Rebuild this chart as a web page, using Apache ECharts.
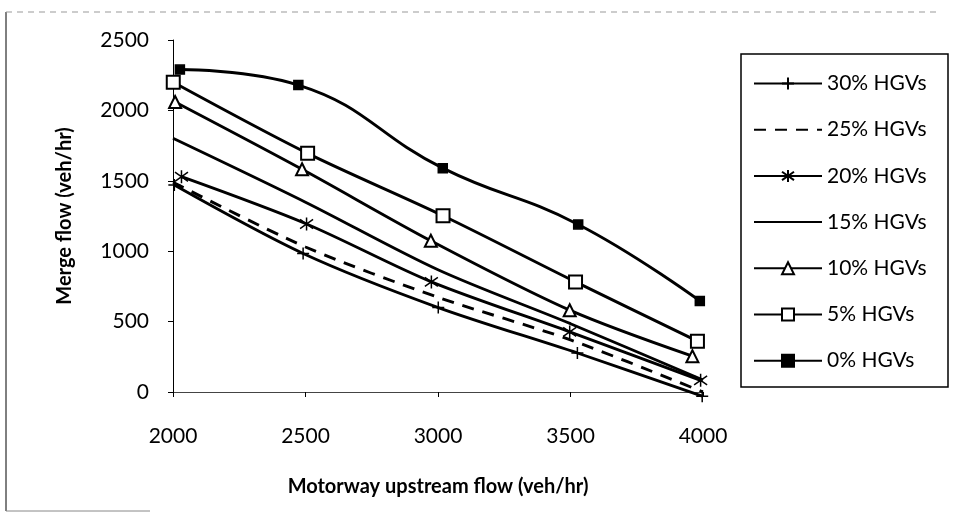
<!DOCTYPE html>
<html>
<head>
<meta charset="utf-8">
<script src="https://cdn.jsdelivr.net/npm/echarts@6/dist/echarts.min.js"></script>
<style>
  html, body { margin: 0; padding: 0; background: #fff; }
  #main { width: 954px; height: 514px; }
</style>
</head>
<body>
<div id="main"></div>
<script>
// x ticks / y ticks
var xTicks = [2000, 2500, 3000, 3500, 4000];
var yTicks = [0, 500, 1000, 1500, 2000, 2500];

var names = ['30% HGVs', '25% HGVs', '20% HGVs', '15% HGVs', '10% HGVs', '5% HGVs', '0% HGVs'];

// [upstream flow, merge flow]
var hgv30 = [[2005, 1470], [2491, 984], [3001, 600], [3526, 277], [3997, -30]];
var hgv25 = [[2000, 1490], [2500, 1030], [3000, 673], [3500, 370], [4000, 0]];
var hgv20 = [[2032, 1529], [2504, 1193], [2975, 782], [3497, 427], [3991, 83]];
var hgv15 = [[2000, 1802], [2500, 1348], [3000, 868], [3500, 485], [4000, 85]];
var hgv10 = [[2008, 2060], [2487, 1582], [2973, 1074], [3497, 581], [3960, 254]];
var hgv5  = [[2001, 2200], [2508, 1695], [3019, 1252], [3519, 782], [3979, 361]];
var hgv0  = [[2026, 2290], [2473, 2180], [3018, 1590], [3529, 1190], [3988, 647]];

var FONT = 'Lato';
var plus = 'path://M5,0V10M0,5H10';
var star = 'path://M5,0V10M1.5,1.5L8.5,8.5M1.5,8.5L8.5,1.5';
var noMark = 'rgba(0,0,0,0)';

function mk(name, data, symbol, size, opts) {
    var s = {
        name: name,
        type: 'line',
        data: data,
        clip: false,
        smooth: 0.3,
        symbol: symbol,
        symbolSize: size,
        lineStyle: { color: '#000', width: 2.9, type: 'solid' },
        itemStyle: { color: '#000', borderColor: '#000', borderWidth: 1.5 },
        emphasis: { disabled: true }
    };
    if (opts) {
        for (var k in opts) s[k] = opts[k];
    }
    return s;
}

var myChart = echarts.init(document.getElementById('main'));
var option = {
    backgroundColor: '#fff',
    animation: false,
    textStyle: { fontFamily: FONT },
    grid: { left: 173, right: 251, top: 40, bottom: 122 },
    graphic: [
        { type: 'line', shape: { x1: 6, y1: 12, x2: 6, y2: 511 }, style: { stroke: '#000', lineWidth: 1 } },
        { type: 'line', shape: { x1: 6, y1: 12, x2: 940, y2: 12 }, style: { stroke: '#999', lineWidth: 1, lineDash: [6, 5] } },
        { type: 'line', shape: { x1: 6, y1: 511, x2: 150, y2: 511 }, style: { stroke: '#888', lineWidth: 1 } },
        { type: 'rect', shape: { x: 741, y: 54, width: 207, height: 333 }, style: { fill: 'none', stroke: '#000', lineWidth: 1.5 } }
    ],
    legend: {
        orient: 'vertical',
        left: 753,
        top: 73,
        padding: 0,
        itemWidth: 68,
        itemHeight: 15,
        itemGap: 25.2,
        data: names,
        textStyle: { fontFamily: FONT, fontSize: 21, color: '#000', lineHeight: 20, padding: [0, 0, 0, 0] }
    },
    xAxis: {
        type: 'value',
        min: xTicks[0],
        max: xTicks[xTicks.length - 1],
        interval: 500,
        name: 'Motorway upstream flow (veh/hr)',
        nameLocation: 'middle',
        nameGap: 85,
        nameTextStyle: { fontFamily: FONT, fontSize: 20, fontWeight: 'bold', color: '#000' },
        axisLine: { onZero: false, lineStyle: { color: '#444', width: 1 } },
        axisTick: { show: true, length: 5, lineStyle: { color: '#000' } },
        axisLabel: { margin: 34, fontFamily: FONT, fontSize: 21, color: '#000', formatter: function (v) { return String(v); } },
        splitLine: { show: false }
    },
    yAxis: {
        type: 'value',
        min: yTicks[0],
        max: yTicks[yTicks.length - 1],
        interval: 500,
        name: 'Merge flow (veh/hr)',
        nameLocation: 'middle',
        nameGap: 98,
        nameTextStyle: { fontFamily: FONT, fontSize: 20, fontWeight: 'bold', color: '#000' },
        axisLine: { show: true, lineStyle: { color: '#000', width: 1 } },
        axisTick: { show: true, length: 5, lineStyle: { color: '#000' } },
        axisLabel: { margin: 24, fontFamily: FONT, fontSize: 21, color: '#000', formatter: function (v) { return String(v); } },
        splitLine: { show: false }
    },
    series: [
        mk(names[0], hgv30, plus, 12),
        mk(names[1], hgv25, 'circle', 1, {
            showSymbol: false,
            lineStyle: { color: '#000', width: 2.9, type: [12, 9] },
            itemStyle: { color: noMark, borderColor: noMark, borderWidth: 0 }
        }),
        mk(names[2], hgv20, star, 13),
        mk(names[3], hgv15, 'circle', 1, {
            showSymbol: false,
            itemStyle: { color: noMark, borderColor: noMark, borderWidth: 0 }
        }),
        mk(names[4], hgv10, 'emptyTriangle', 12),
        mk(names[5], hgv5, 'emptyRect', 13),
        mk(names[6], hgv0, 'rect', 9, { smooth: 0.45 })
    ]
};
myChart.setOption(option);
</script>
</body>
</html>
